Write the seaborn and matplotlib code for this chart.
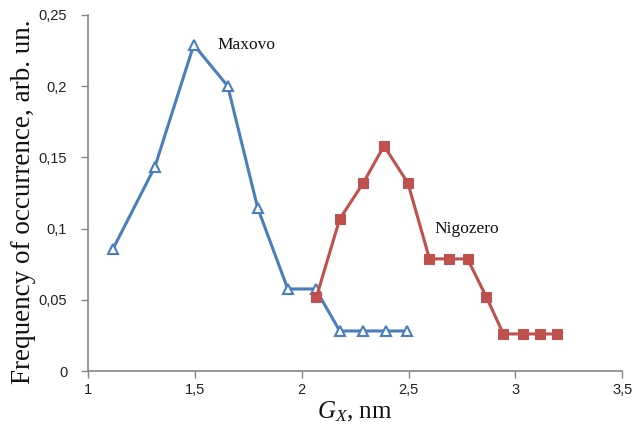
import matplotlib
matplotlib.use("Agg")
import matplotlib.pyplot as plt
import seaborn as sns
import pandas as pd

# Data
maxovo_x = [1.117, 1.313, 1.495, 1.654, 1.794, 1.935, 2.065, 2.178, 2.285, 2.393, 2.495]
maxovo_y = [0.0857, 0.1433, 0.229, 0.200, 0.1145, 0.0576, 0.0576, 0.0281, 0.0281, 0.0281, 0.0281]
nigozero_x = [2.069, 2.178, 2.288, 2.385, 2.497, 2.598, 2.687, 2.776, 2.864, 2.944, 3.037, 3.117, 3.196]
nigozero_y = [0.052, 0.1067, 0.132, 0.158, 0.132, 0.0787, 0.0787, 0.0787, 0.052, 0.026, 0.026, 0.026, 0.026]
xticks = [1, 1.5, 2, 2.5, 3, 3.5]
xtick_labels = ["1", "1,5", "2", "2,5", "3", "3,5"]
yticks = [0, 0.05, 0.1, 0.15, 0.2, 0.25]
ytick_labels = ["0", "0,05", "0,1", "0,15", "0,2", "0,25"]

sns.set_theme(style="white")
plt.rcParams["font.family"] = ["Liberation Sans", "DejaVu Sans"]
plt.rcParams["mathtext.fontset"] = "custom"
plt.rcParams["mathtext.rm"] = "Liberation Serif"
plt.rcParams["mathtext.it"] = "Liberation Serif:italic"

blue = "#4A7EBB"
red = "#C0504D"

fig = plt.figure(figsize=(6.33, 4.37), dpi=100)
ax = fig.add_axes([0.139, 0.151, 0.844, 0.815])

dm = pd.DataFrame({"x": maxovo_x, "y": maxovo_y})
dn = pd.DataFrame({"x": nigozero_x, "y": nigozero_y})

sns.lineplot(data=dm, x="x", y="y", ax=ax, color=blue, lw=2.2, marker="^",
             markersize=7.5, markerfacecolor="white", markeredgecolor=blue,
             markeredgewidth=1.5, sort=False)
sns.lineplot(data=dn, x="x", y="y", ax=ax, color=red, lw=2.2, marker="s",
             markersize=7, markerfacecolor=red, markeredgecolor=red, sort=False)

ax.set_xlim(1, 3.5)
ax.set_ylim(0, 0.25)
ax.set_xticks(xticks, xtick_labels)
ax.set_yticks(yticks, ytick_labels)
ax.tick_params(axis="both", direction="out", length=5, width=1, color="#868686",
               labelsize=10.5, labelcolor="#222222", bottom=True, left=True)
ax.tick_params(axis="y", pad=10)
for s in ["top", "right"]:
    ax.spines[s].set_visible(False)
for s in ["left", "bottom"]:
    ax.spines[s].set_color("#868686")
    ax.spines[s].set_linewidth(1.2)

ax.set_ylabel("Frequency of occurrence, arb. un.", family="Liberation Serif",
              fontsize=19.5, color="#111111")
ax.yaxis.set_label_coords(-0.098, 0.475)
ax.set_xlabel(r"$G_X$, nm", family="Liberation Serif", fontsize=18,
              color="#111111", labelpad=2)

ax.text(1.605, 0.229, "Maxovo", family="Liberation Serif", fontsize=12.5,
        color="#111111", va="center", ha="left")
ax.text(2.62, 0.0995, "Nigozero", family="Liberation Serif", fontsize=12.5,
        color="#111111", va="center", ha="left")

fig.savefig("out.png", dpi=100)
